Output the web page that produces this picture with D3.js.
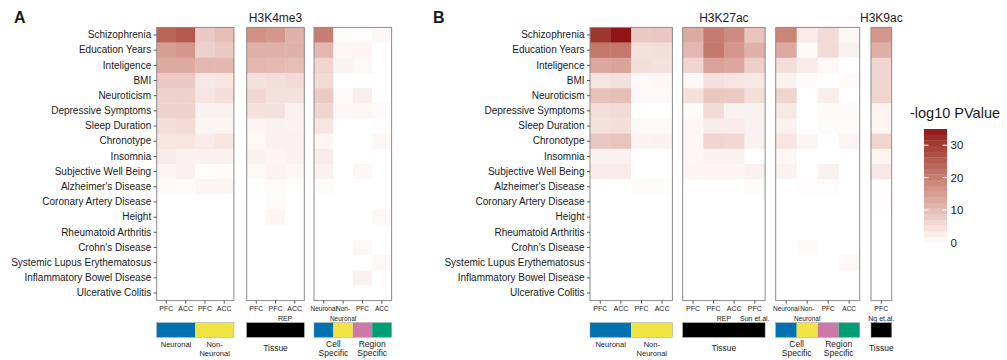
<!DOCTYPE html>
<html>
<head>
<meta charset="utf-8">
<script src="https://cdn.jsdelivr.net/npm/d3@7"></script>
<style>
  body { margin: 0; background: #fff; }
  svg text { font-family: "Liberation Sans", Arial, Helvetica, sans-serif; fill: #1a1a1a; }
</style>
</head>
<body>
<div id="chart"></div>
<script>
// traits (rows)
const traits = ["Schizophrenia", "Education Years", "Inteligence", "BMI", "Neuroticism",
  "Depressive Symptoms", "Sleep Duration", "Chronotype", "Insomnia", "Subjective Well Being",
  "Alzheimer's Disease", "Coronary Artery Disease", "Height", "Rheumatoid Arthritis",
  "Crohn's Disease", "Systemic Lupus Erythematosus", "Inflammatory Bowel Disease", "Ulcerative Colitis"];

// column tick labels (one array of lines per column)
const cellTypeCols = [["PFC"], ["ACC"], ["PFC"], ["ACC"]];
const tissueColsA = [["PFC"], ["PFC"], ["ACC"]];
const tissueColsB = [["PFC"], ["PFC"], ["ACC"], ["PFC", "Sun et.al."]];
const specificCols = [["Neuronal"], ["Non-", "Neuronal"], ["PFC"], ["ACC"]];
const ngCols = [["PFC", "Ng et.al."]];

// -log10 p values, one row per trait
const h3k4me3CellType = [
  [24, 26, 8, 10], [15, 16, 7, 8], [13, 13, 11, 11], [8, 8, 3.5, 4], [7, 7, 4, 5],
  [7, 7, 2, 2], [5, 5.5, 1.5, 1.5], [4, 4, 3, 4], [3, 2, 2, 2], [1.5, 2, 0.4, 0.6],
  [0.8, 0.6, 1.5, 1.5], [0, 0, 0, 0], [0, 0, 0, 0], [0, 0, 0, 0], [0, 0, 0, 0],
  [0, 0, 0, 0], [0, 0, 0, 0], [0, 0, 0, 0]];
const h3k4me3Tissue = [
  [17, 16, 12], [12, 12, 12], [11, 10.5, 10], [4.5, 5, 5.5], [6, 4.5, 4.5],
  [4.5, 4.5, 2], [1.5, 2, 1.8], [1, 2, 2], [2, 1.5, 2], [1, 1.8, 1.2],
  [0.3, 0.6, 0.2], [0, 0.5, 0], [0, 1.5, 0], [0, 0, 0], [0, 0, 0],
  [0, 0, 0], [0, 0, 0], [0, 0, 0]];
const h3k4me3Specific = [
  [20, 0.5, 0.4, 1.2], [11, 1.2, 1.5, 0], [6.5, 1.8, 1, 0], [5.5, 0, 0, 0], [8, 0.8, 2.5, 0],
  [6.5, 1.2, 1.4, 0.8], [4, 0, 0, 0.3], [1.3, 0, 0, 1.3], [3, 0, 0, 0], [2, 0, 1.2, 0],
  [0.5, 0, 0, 0], [0, 0, 0, 0], [0, 0, 0, 1.1], [0, 0, 0, 0], [0, 0, 1.1, 0],
  [0, 0, 0, 1], [0, 0, 2, 0], [0, 0, 0, 0]];
const h3k27acCellType = [
  [31, 35, 8, 8.5], [21, 21, 4.5, 5], [13.5, 14, 5, 4.5], [4, 4.5, 1, 1.4], [9.5, 10, 1, 1],
  [5, 5.5, 0, 0], [4.5, 5, 1, 1], [8.5, 9, 1.8, 2], [2, 2, 0, 0], [3, 3, 0, 0],
  [0, 0, 0.5, 0.5], [0, 0, 0, 0], [0, 0, 0, 0], [0, 0, 0, 0], [0, 0, 0, 0],
  [0, 0, 0, 0], [0, 0, 0, 0], [0, 0, 0, 0]];
const h3k27acTissue = [
  [13, 20.5, 18, 9], [11, 21, 16, 12], [6.5, 14.5, 13.5, 7.5], [1, 4.5, 4, 3.5], [4.5, 8.5, 8, 5],
  [0.8, 5.5, 2, 2], [1.2, 3, 3, 2], [1.2, 6.5, 6, 2], [1.2, 2, 2, 0], [1.5, 1.5, 1.5, 2],
  [0, 0, 0, 0.6], [0, 0, 0, 0], [0, 0, 0, 0], [0, 0, 0, 0], [0, 0, 0, 0],
  [0, 0, 0, 0], [0, 0, 0, 0], [0, 0, 0, 0]];
const h3k27acSpecific = [
  [19, 3, 5.5, 1.3], [13, 0.8, 5.5, 2], [5, 3, 1, 0], [2, 0.8, 0, 0.8], [6.5, 0, 2.5, 0],
  [3.5, 0, 0.7, 0.7], [2, 0, 0.5, 0.6], [4, 1.5, 0, 1.5], [1.4, 0, 0, 0], [2, 0, 2, 0],
  [0, 0.4, 0.4, 0], [0, 0, 0, 0], [0, 0, 0, 0], [0, 0, 0, 0], [0, 0.8, 0, 0],
  [0, 0, 0, 1], [0, 0, 0, 0], [0, 0, 0, 0]];
const h3k9acTissue = [
  [16], [12.5], [6.5], [6.5], [6.5], [1.5], [1.5], [6.5], [1.5], [3.5],
  [0], [0.4], [0], [0], [0], [0], [0], [0]];

const legendTicks = [0, 10, 20, 30];
const pMax = 35;

const width = 1007, height = 360;
const blue = "#0072b2", yellow = "#f0e442", pink = "#cc79a7", green = "#009e73";

const svg = d3.select("#chart").append("svg")
  .attr("width", width)
  .attr("height", height);

const y = d3.scaleBand().domain(traits).range([27.4, 300.6]);
const color = d3.scaleLinear().domain([0, pMax])
  .range(["#ffffff", "#8e1518"])
  .interpolate(d3.interpolateLab);

// one entry per heatmap block
const blocks = [
  { x0: 156.7, cw: 19.3, cols: cellTypeCols, values: h3k4me3CellType, kind: "cell", axis: true },
  { x0: 246.7, cw: 19.2, cols: tissueColsA, values: h3k4me3Tissue, kind: "tissue", rep: true, title: "H3K4me3" },
  { x0: 314, cw: 19.4, cols: specificCols, values: h3k4me3Specific, kind: "specific" },
  { x0: 590, cw: 20.6, cols: cellTypeCols, values: h3k27acCellType, kind: "cell", axis: true },
  { x0: 682.7, cw: 20.6, cols: tissueColsB, values: h3k27acTissue, kind: "tissue", rep: true, title: "H3K27ac" },
  { x0: 775.7, cw: 21, cols: specificCols, values: h3k27acSpecific, kind: "specific" },
  { x0: 871, cw: 20.7, cols: ngCols, values: h3k9acTissue, kind: "tissue", title: "H3K9ac" }
];

const catY = 322.7, catH = 14.6;

blocks.forEach(b => {
  const n = b.cols.length;
  const x = d3.scaleBand().domain(d3.range(n)).range([b.x0, b.x0 + n * b.cw]);
  const g = svg.append("g");

  const cells = [];
  b.values.forEach((row, i) => row.forEach((v, j) => cells.push({ trait: traits[i], col: j, v })));

  g.selectAll("rect.cell")
    .data(cells)
    .enter()
    .append("rect")
    .attr("class", "cell")
    .attr("x", d => x(d.col))
    .attr("y", d => y(d.trait))
    .attr("width", x.bandwidth() + 0.3)
    .attr("height", y.bandwidth() + 0.3)
    .attr("fill", d => color(d.v));

  // panel border
  g.append("rect")
    .attr("x", b.x0)
    .attr("y", y.range()[0])
    .attr("width", n * b.cw)
    .attr("height", y.range()[1] - y.range()[0])
    .attr("fill", "none")
    .attr("stroke", "#8c8c8c")
    .attr("stroke-width", 1);

  // bottom ticks
  const ax = g.append("g")
    .attr("transform", `translate(0,${y.range()[1]})`)
    .call(d3.axisBottom(x).tickSize(3).tickFormat(""));
  ax.select(".domain").remove();
  ax.selectAll("line").attr("stroke", "#555");

  // multi-line tick labels
  const lab = g.selectAll("text.xlab")
    .data(b.cols)
    .enter()
    .append("text")
    .attr("class", "xlab")
    .attr("text-anchor", "middle")
    .attr("font-size", b.kind === "specific" ? 6.5 : 7)
    .attr("y", 311);
  lab.selectAll("tspan")
    .data((d, i) => d.map((t, k) => ({ t, k, i })))
    .enter()
    .append("tspan")
    .attr("x", d => x(d.i) + x.bandwidth() / 2)
    .attr("dy", d => d.k === 0 ? 0 : 9.5)
    .text(d => d.t);

  if (b.rep) {
    // replicate label shared by the 2nd and 3rd column
    g.append("text")
      .attr("x", x(2))
      .attr("y", 320.5)
      .attr("text-anchor", "middle")
      .attr("font-size", 7)
      .text("REP");
  }

  if (b.axis) {
    const ay = g.append("g")
      .attr("transform", `translate(${b.x0},0)`)
      .call(d3.axisLeft(y).tickSize(3).tickPadding(2.5));
    ay.select(".domain").remove();
    ay.selectAll("line").attr("stroke", "#555");
    ay.selectAll("text")
      .attr("font-size", 10)
      .attr("font-family", "'Liberation Sans', Arial, sans-serif")
      .attr("fill", "#1a1a1a");
  }

  if (b.title) {
    g.append("text")
      .attr("x", b.x0 + n * b.cw / 2)
      .attr("y", 22)
      .attr("text-anchor", "middle")
      .attr("font-size", 12)
      .text(b.title);
  }

  // category colour bar and its labels
  let segs, labels;
  if (b.kind === "cell") {
    segs = [{ c: blue, a: 0, z: 1 }, { c: yellow, a: 2, z: 3 }];
    labels = [{ a: 0, z: 1, lines: ["Neuronal"] }, { a: 2, z: 3, lines: ["Non-", "Neuronal"] }];
  } else if (b.kind === "tissue") {
    segs = [{ c: "#000", a: 0, z: n - 1 }];
    labels = [{ a: 0, z: n - 1, lines: ["Tissue"], mid: true }];
  } else {
    segs = [{ c: blue, a: 0, z: 0 }, { c: yellow, a: 1, z: 1 }, { c: pink, a: 2, z: 2 }, { c: green, a: 3, z: 3 }];
    labels = [{ a: 0, z: 1, lines: ["Cell", "Specific"], big: true }, { a: 2, z: 3, lines: ["Region", "Specific"], big: true }];
  }
  g.selectAll("rect.cat")
    .data(segs)
    .enter()
    .append("rect")
    .attr("class", "cat")
    .attr("x", d => x(d.a))
    .attr("y", catY)
    .attr("width", d => x(d.z) + x.bandwidth() - x(d.a))
    .attr("height", catH)
    .attr("fill", d => d.c);
  g.append("rect")
    .attr("x", b.x0)
    .attr("y", catY)
    .attr("width", n * b.cw)
    .attr("height", catH)
    .attr("fill", "none")
    .attr("stroke", "#999")
    .attr("stroke-width", 0.5);

  const cl = g.selectAll("text.catlab")
    .data(labels)
    .enter()
    .append("text")
    .attr("class", "catlab")
    .attr("text-anchor", "middle")
    .attr("font-size", d => d.big ? 8.5 : (d.mid ? 8.5 : 7.5))
    .attr("y", d => d.mid ? 350.5 : 346.5);
  cl.selectAll("tspan")
    .data(d => d.lines.map((t, k) => ({ t, k, cx: (x(d.a) + x(d.z) + x.bandwidth()) / 2, big: d.big })))
    .enter()
    .append("tspan")
    .attr("x", d => d.cx)
    .attr("dy", d => d.k === 0 ? 0 : (d.big ? 9.8 : 9))
    .text(d => d.t);
});

// panel letters
svg.append("text").attr("x", 14).attr("y", 23).attr("font-size", 16).attr("font-weight", "bold").text("A");
svg.append("text").attr("x", 433).attr("y", 23).attr("font-size", 16).attr("font-weight", "bold").text("B");

// legend
const lg = svg.append("g");
const ly = d3.scaleLinear().domain([0, pMax]).range([242.5, 129]);
const nbin = 20;
const bins = d3.range(nbin).map(i => [i * pMax / nbin, (i + 1) * pMax / nbin]);
lg.append("text")
  .attr("x", 910)
  .attr("y", 118)
  .attr("font-size", 14.5)
  .text("-log10 PValue");
lg.selectAll("rect.bin")
  .data(bins)
  .enter()
  .append("rect")
  .attr("class", "bin")
  .attr("x", 924)
  .attr("y", d => ly(d[1]))
  .attr("width", 23)
  .attr("height", d => ly(d[0]) - ly(d[1]) + 0.3)
  .attr("fill", d => color((d[0] + d[1]) / 2));
lg.selectAll("line.lt")
  .data(legendTicks.flatMap(t => [{ t, x: 924 }, { t, x: 942.5 }]))
  .enter()
  .append("line")
  .attr("x1", d => d.x)
  .attr("x2", d => d.x + 4.5)
  .attr("y1", d => ly(d.t))
  .attr("y2", d => ly(d.t))
  .attr("stroke", "#fff")
  .attr("stroke-width", 1);
lg.selectAll("text.lv")
  .data(legendTicks)
  .enter()
  .append("text")
  .attr("class", "lv")
  .attr("x", 950.5)
  .attr("y", d => ly(d) + 4)
  .attr("font-size", 11.5)
  .text(d => d);
</script>
</body>
</html>
